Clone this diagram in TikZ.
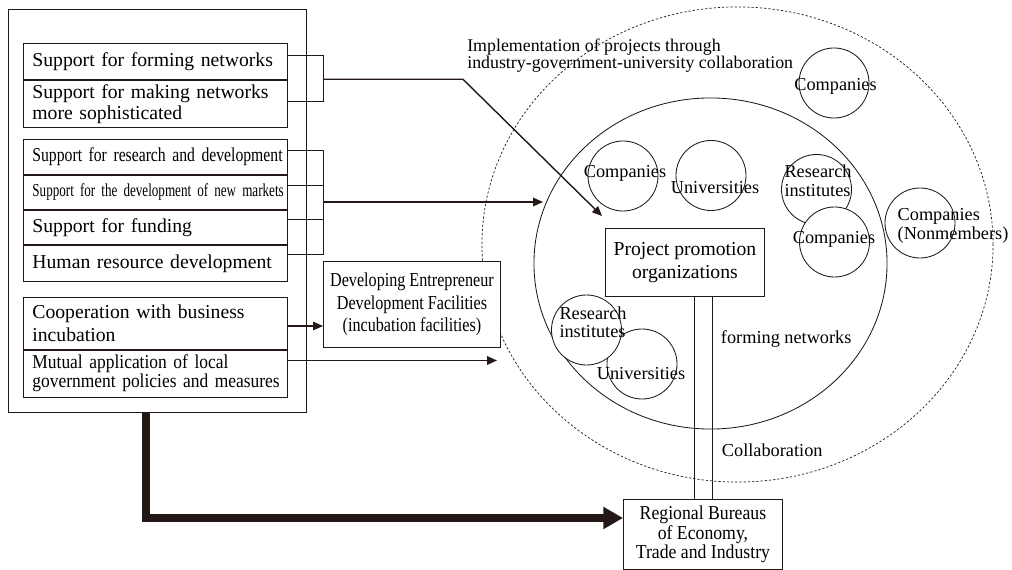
\documentclass[tikz,border=0pt]{standalone}
\usepackage{fontspec}
\setmainfont{Liberation Serif}
\newfontfamily\narrowfont[FakeStretch=0.9]{Liberation Serif}
\newfontfamily\slimfont[FakeStretch=0.886]{Liberation Serif}
\newfontfamily\condfont[FakeStretch=0.82]{Liberation Serif}
\newfontfamily\resfont[FakeStretch=0.797]{Liberation Serif}
\newfontfamily\tightfont[FakeStretch=0.717]{Liberation Serif}
\usetikzlibrary{positioning,arrows.meta,shapes.geometric}
\definecolor{inkblack}{RGB}{35,24,21}
\tikzset{
	cell/.style={draw=inkblack, line width=0.6pt, inner xsep=0.225cm, inner ysep=0pt, text width=6.15cm, align=left, anchor=north west, font=\fontsize{14}{15}\selectfont},
	bubble/.style={circle, draw=inkblack, fill=white, line width=0.6pt, minimum size=1.75cm, inner sep=0pt},
	tag/.style={inner sep=0pt, align=center, font=\fontsize{13}{13.3}\selectfont},
	panel/.style={draw=inkblack, fill=white, line width=0.6pt, anchor=north west, inner sep=0pt, align=center},
	wire/.style={draw=inkblack, line width=0.6pt},
	feed/.style={draw=inkblack, line width=1pt, -{Triangle[length=7pt,width=6pt]}},
	mainfeed/.style={draw=inkblack, line width=5.7pt, -{Triangle[length=14pt,width=15pt]}}
}
\begin{document}
\begin{tikzpicture}[x=0.025cm, y=-0.025cm, line join=miter]
	\useasboundingbox (0,0) rectangle (1012,570);

	% collaboration area
	\node[ellipse, draw=inkblack, line width=0.5pt, dash pattern=on 1.6pt off 1.4pt, minimum width=12.775cm, minimum height=11.875cm, inner sep=0pt] (region) at (737.5,244.5) {};
	\node[ellipse, draw=inkblack, line width=0.6pt, minimum width=8.825cm, minimum height=8.275cm, inner sep=0pt] (network) at (710.5,263.5) {};

	\node[bubble] (compout) at (834,83) {};
	\node[bubble] (compin) at (623,176) {};
	\node[bubble] (univin) at (711,175.5) {};
	\node[bubble] (resin) at (816.5,189.5) {};
	\node[bubble] (compmid) at (834.5,242) {};
	\node[bubble] (compnon) at (920,223) {};
	\node[bubble] (univlow) at (642,364) {};
	\node[bubble] (reslow) at (586.5,330) {};

	\node[tag] (compoutl) at (835.5,86) {Companies};
	\node[tag] (compinl) at (625,173) {Companies};
	\node[tag] (univinl) at (715,187.5) {Universities};
	\node[tag, align=left] (resinl) at (818,181) {Research\\institutes};
	\node[tag] (compmidl) at (834,239.3) {Companies};
	\node[tag, align=left] (compnonl) at (953,226) {Companies\\(Nonmembers)};
	\node[tag, align=left] (reslowl) at (593,322.3) {Research\\institutes};
	\node[tag] (univlowl) at (641,374) {Universities};

	\node[tag, anchor=west, align=left, font=\fontsize{12.7}{12.3}\selectfont] (implnote) at (467,55.5) {Implementation of projects through\\industry-government-university collaboration};
	\node[tag, anchor=west] (formnote) at (720.7,339) {forming networks};
	\node[tag, anchor=west] (collabnote) at (721.7,450) {Collaboration};

	\node[panel, minimum width=3.975cm, minimum height=1.7cm, font=\fontsize{14}{16.7}\selectfont] (project) at (605,228) {Project promotion\\organizations};
	\node[panel, minimum width=3.975cm, minimum height=1.75cm, font=\narrowfont\fontsize{14}{13.8}\selectfont] (bureau) at (623,499) {Regional Bureaus\\of Economy,\\Trade and Industry};
	\draw[wire] (project.south -| 694,0) -- (bureau.north -| 694,0);
	\draw[wire] (project.south -| 712,0) -- (bureau.north -| 712,0);

	% measures of the cluster plan
	\node[draw=inkblack, line width=0.6pt, minimum width=7.45cm, minimum height=10.075cm, anchor=north west, inner sep=0pt] (frame) at (8,9) {};
	\node[cell, minimum height=0.8875cm] (fnet) at (23,43.5) {Support for forming networks};
	\node[cell, minimum height=1.175cm, below=0pt of fnet] (mnet) {Support for making networks\\more sophisticated};
	\node[cell, minimum height=0.875cm, font=\resfont\fontsize{14}{15}\selectfont] (rnd) at (23,138.7) {\mbox{Support for research and development}};
	\node[cell, minimum height=0.865cm, font=\tightfont\fontsize{13}{14}\selectfont, below=0pt of rnd] (mkt) {\mbox{Support for the development of new markets}};
	\node[cell, minimum height=0.86cm, below=0pt of mkt] (fund) {Support for funding};
	\node[cell, minimum height=0.8825cm, below=0pt of fund] (hrd) {Human resource development};
	\node[cell, minimum height=1.2925cm, font=\fontsize{14}{16.7}\selectfont] (incb) at (23,297) {Cooperation with business\\incubation};
	\node[cell, minimum height=1.1825cm, font=\slimfont\fontsize{14}{13.5}\selectfont, below=0pt of incb] (mutual) {Mutual application of local\\\mbox{government policies and measures}};

	\node[panel, minimum width=4.425cm, minimum height=2.15cm, font=\condfont\fontsize{14}{16}\selectfont] (incubfac) at (323,261) {Developing Entrepreneur\\Development Facilities\\(incubation facilities)};

	% brackets and arrows
	\draw[wire] (fnet.east |- 0,55) -- (323,55) |- (mnet.east |- 0,101);
	\coordinate (netjoin) at (323,79.3);
	\coordinate (projtip) at (602,216);
	\draw[feed] (netjoin) -- (463,79.3) -- (projtip);

	\draw[wire] (rnd.east |- 0,150) -- (323,150) |- (hrd.east |- 0,254.7);
	\draw[wire] (mkt.east |- 0,185) -- (323,185);
	\draw[wire] (fund.east |- 0,219.7) -- (323,219.7);
	\coordinate (bizjoin) at (323,202);
	\coordinate (nettip) at (543,202);
	\draw[feed] (bizjoin) -- (nettip);

	\draw[feed] (incb.east |- 0,326) -- (incubfac.west |- 0,326);
	\coordinate (ringtip) at (497,360.5);
	\draw[feed] (mutual.east |- 0,360.5) -- (ringtip);

	\draw[mainfeed] (frame.south -| 146,0) -- (146,518) -- (bureau.west |- 0,518);
\end{tikzpicture}
\end{document}
